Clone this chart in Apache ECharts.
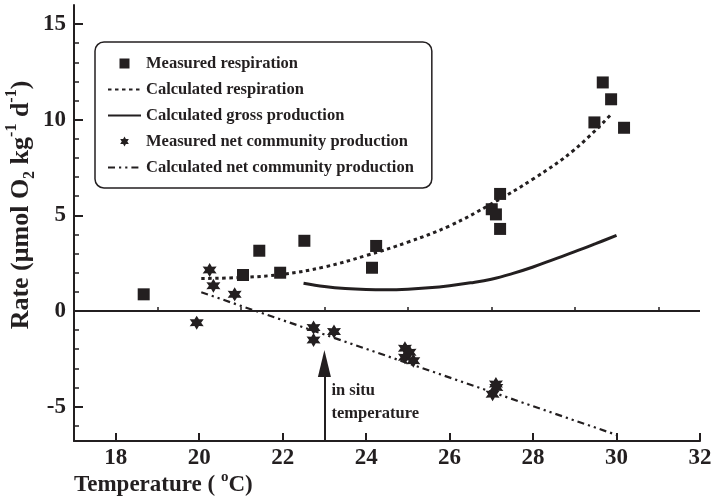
<!DOCTYPE html>
<html><head><meta charset="utf-8">
<script src="https://cdn.jsdelivr.net/npm/echarts@6/dist/echarts.min.js"></script>
<style>html,body{margin:0;padding:0;background:#fff}#c{width:714px;height:503px}</style>
</head><body><div id="c"></div>
<script>
// ---- data ----
const xMin = 17, xMax = 32, yMin = -6.8, yMax = 16;
const xMajorTicks = [18, 20, 22, 24, 26, 28, 30, 32];
const xMinorTicks = [19, 21, 23, 25, 27, 29, 31];
const yMajorTicks = [-5, 0, 5, 10, 15];
const yMinorTicks = [-6, -4, -3, -2, -1, 1, 2, 3, 4, 6, 7, 8, 9, 11, 12, 13, 14];

const measuredResp = [[18.67,0.87],[21.05,1.88],[21.44,3.15],[21.94,2.0],[22.52,3.67],[24.14,2.26],[24.24,3.40],
  [27.01,5.32],[27.11,5.05],[27.21,6.12],[27.21,4.29],[29.47,9.86],[29.67,11.95],[29.87,11.07],[30.18,9.58]];
const measuredNet = [[19.94,-0.61],[20.25,2.14],[20.34,1.32],[20.85,0.87],[22.74,-0.87],[22.74,-1.52],[23.23,-1.08],
  [24.93,-1.95],[25.04,-2.16],[24.93,-2.42],[25.13,-2.6],[27.11,-3.82],[27.12,-4.0],[27.03,-4.35]];
const respTemps = [20.05, 21, 22, 23, 24, 25, 26, 27, 28, 29, 29.9];
const respValues = [1.70, 1.75, 1.92, 2.30, 2.90, 3.60, 4.45, 5.60, 6.90, 8.45, 10.35];
const grossTemps = [22.5, 23, 23.5, 24, 24.5, 25, 25.5, 26, 26.5, 27, 27.5, 28, 28.5, 29, 29.5, 30];
const grossValues = [1.45, 1.28, 1.17, 1.12, 1.11, 1.14, 1.21, 1.32, 1.47, 1.66, 1.95, 2.3, 2.7, 3.1, 3.52, 3.95];
const netTemps = [20.05, 30.0];
const netValues = [0.98, -6.48];
const inSituTemp = 23;
const arrowHeadCenter = -2.75;

// ---- chart ----
const INK = '#231f20';
const FONT = "'Liberation Serif', 'Times New Roman', serif";
const zip = (a, b) => a.map((v, i) => [v, b[i]]);
const starPath = 'path://M0,-10 L2.75,-4.76 L8.66,-5 L5.5,0 L8.66,5 L2.75,4.76 L0,10 L-2.75,4.76 L-8.66,5 L-5.5,0 L-8.66,-5 L-2.75,-4.76 Z';
const squarePath = 'path://M0,0 L10,0 L10,10 L0,10 Z';
const noSym = {color: 'rgba(0,0,0,0)', borderWidth: 0, opacity: 0};

const chart = echarts.init(document.getElementById('c'), null, {renderer: 'canvas'});
const richY = {
  sub: {fontSize: 16, fontFamily: FONT, fontWeight: 'bold', color: INK, verticalAlign: 'bottom', lineHeight: 34},
  sup: {fontSize: 16, fontFamily: FONT, fontWeight: 'bold', color: INK, verticalAlign: 'top', lineHeight: 34}
};
const richX = {
  sup: {fontSize: 15, fontFamily: FONT, fontWeight: 'bold', color: INK, verticalAlign: 'top', lineHeight: 30}
};
const option = {
  backgroundColor: '#fff',
  animation: false,
  grid: {left: 74, right: 14, top: 5, bottom: 62, containLabel: false, outerBoundsMode: 'none'},
  legend: {
    orient: 'vertical', left: 95, top: 42,
    padding: [13, 18, 12, 12], itemGap: 9, itemWidth: 33, itemHeight: 10,
    borderColor: INK, borderWidth: 1.5, borderRadius: 9,
    textStyle: {fontFamily: FONT, fontWeight: 'bold', fontSize: 16.5, lineHeight: 14, color: INK},
    data: [
      {name: 'Measured respiration', icon: squarePath},
      {name: 'Calculated respiration', itemStyle: noSym},
      {name: 'Calculated gross production', itemStyle: noSym},
      {name: 'Measured net community production'},
      {name: 'Calculated net community production', itemStyle: noSym}
    ]
  },
  xAxis: [{
    type: 'value', min: xMin, max: xMax, position: 'bottom',
    axisLine: {show: true, onZero: false, lineStyle: {color: INK, width: 2}},
    axisTick: {show: true, inside: true, length: 8, customValues: xMajorTicks, lineStyle: {color: INK, width: 2}},
    axisLabel: {customValues: xMajorTicks, fontFamily: FONT, fontWeight: 'bold', fontSize: 23, color: INK, margin: 6},
    splitLine: {show: false},
    name: 'Temperature ( {sup|o}C)', nameLocation: 'start', nameGap: 0, nameMoveOverlap: false,
    nameTextStyle: {fontFamily: FONT, fontWeight: 'bold', fontSize: 23, color: INK, align: 'left', verticalAlign: 'top',
      lineHeight: 30, padding: [29, 0, 0, 0], rich: richX}
  }, {
    type: 'value', min: xMin, max: xMax, position: 'bottom',
    axisLine: {show: false},
    axisTick: {show: true, inside: true, length: 4, customValues: xMinorTicks, lineStyle: {color: INK, width: 1.5}},
    axisLabel: {show: false}, splitLine: {show: false}
  }],
  yAxis: [{
    type: 'value', min: yMin, max: yMax, position: 'left',
    axisLine: {show: true, onZero: false, lineStyle: {color: INK, width: 2}},
    axisTick: {show: true, inside: true, length: 9, customValues: yMajorTicks, lineStyle: {color: INK, width: 2}},
    axisLabel: {customValues: yMajorTicks, fontFamily: FONT, fontWeight: 'bold', fontSize: 23, color: INK, margin: 8},
    splitLine: {show: false},
    name: 'Rate (μmol O{sub|2} kg{sup|-1} d{sup|-1})', nameLocation: 'middle', nameGap: 36, nameRotate: 90,
    nameMoveOverlap: false,
    nameTextStyle: {fontFamily: FONT, fontWeight: 'bold', fontSize: 26, color: INK, lineHeight: 34,
      padding: [0, 0, 0, 36], rich: richY}
  }, {
    type: 'value', min: yMin, max: yMax, position: 'left',
    axisLine: {show: false},
    axisTick: {show: true, inside: true, length: 5, customValues: yMinorTicks, lineStyle: {color: INK, width: 1.5}},
    axisLabel: {show: false}, splitLine: {show: false}
  }],
  series: [{
    name: 'Calculated respiration', type: 'line', smooth: 0.4, symbol: 'none', z: 3,
    data: zip(respTemps, respValues),
    lineStyle: {color: INK, width: 3, type: [3.5, 3.5]}, itemStyle: {color: INK}
  }, {
    name: 'Calculated gross production', type: 'line', smooth: 0.4, symbol: 'none', z: 3,
    data: zip(grossTemps, grossValues),
    lineStyle: {color: INK, width: 3, type: 'solid'}, itemStyle: {color: INK}
  }, {
    name: 'Calculated net community production', type: 'line', symbol: 'none', z: 3,
    data: zip(netTemps, netValues),
    lineStyle: {color: INK, width: 2.2, type: [7, 4, 2.2, 4, 2.2, 4]}, itemStyle: {color: INK},
    markLine: {
      silent: true, animation: false,
      label: {show: false},
      lineStyle: {color: INK, width: 2, type: 'solid'},
      data: [[
        {coord: [inSituTemp, yMin], symbol: 'none'},
        {coord: [inSituTemp, arrowHeadCenter], symbol: 'triangle', symbolSize: [13, 27]}
      ]]
    }
  }, {
    name: 'Measured respiration', type: 'scatter', symbol: 'rect', symbolSize: 12, z: 5,
    data: measuredResp, itemStyle: {color: INK, opacity: 1},
    markLine: {
      silent: true, animation: false, symbol: 'none',
      label: {show: false},
      lineStyle: {color: INK, width: 2, type: 'solid'},
      data: [{yAxis: 0}]
    }
  }, {
    name: 'Measured net community production', type: 'scatter', symbol: starPath, symbolSize: 14, z: 5,
    data: measuredNet, itemStyle: {color: INK, opacity: 1}
  }]
};
chart.setOption(option);

const tp = chart.convertToPixel({xAxisIndex: 0, yAxisIndex: 0}, [inSituTemp, arrowHeadCenter]);
chart.setOption({
  graphic: [{
    type: 'text', left: tp[0] + 7, top: tp[1] + 16,
    style: {text: 'in situ\ntemperature', fontFamily: FONT, fontWeight: 'bold', fontSize: 16.5, lineHeight: 23, fill: INK}
  }]
});
</script></body></html>
